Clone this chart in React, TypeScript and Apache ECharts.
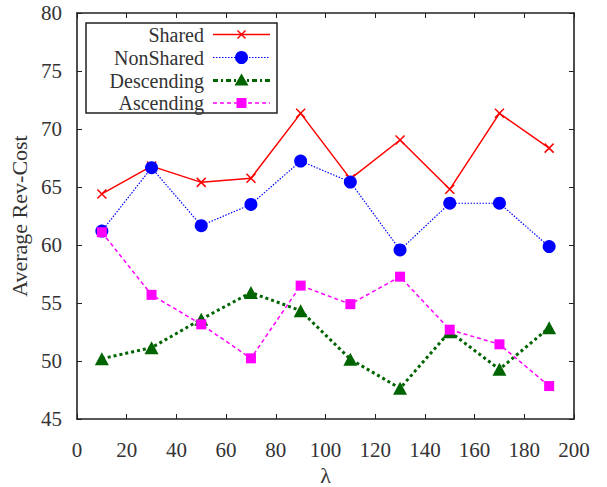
import React, { useEffect, useRef } from "react";
import * as echarts from "echarts";

const lambdas = [10, 30, 50, 70, 90, 110, 130, 150, 170, 190];
const shared = [64.4, 66.8, 65.4, 65.75, 71.35, 65.7, 69.05, 64.8, 71.35, 68.35];
const nonShared = [61.2, 66.66, 61.67, 63.5, 67.24, 65.43, 59.57, 63.6, 63.6, 59.86];
const descending = [50.2, 51.15, 53.6, 55.9, 54.34, 50.15, 47.65, 52.53, 49.28, 52.87];
const ascending = [61.1, 55.7, 53.16, 50.23, 56.5, 54.9, 57.27, 52.7, 51.44, 47.84];
const seriesNames = ["Shared", "NonShared", "Descending", "Ascending"];
const xMin = 0, xMax = 200, xStep = 20;
const yMin = 45, yMax = 80, yStep = 5;
const xName = "λ";
const yName = "Average Rev-Cost";

const FONT = "'Liberation Serif', 'Times New Roman', 'DejaVu Serif', serif";
const AXIS = "#222";
const TXT = "#333";

export default function App() {
  const ref = useRef<HTMLDivElement>(null);
  useEffect(() => {
    if (!ref.current) return;
    const chart = echarts.init(ref.current, null, { renderer: "svg" });
    const pairs = (vals: number[]) => lambdas.map((x, i) => [x, vals[i]]);
    const axisLine = { show: true, onZero: false, lineStyle: { color: AXIS, width: 1.6 } };
    const tick = { show: true, inside: true, length: 5, lineStyle: { color: AXIS, width: 1 } };
    const labelStyle = { fontFamily: FONT, fontSize: 21, color: TXT };

    const legendRows = [34.5, 57.5, 80.5, 103];
    const lx1 = 213, lx2 = 270, lxc = 241.5;
    const legendGraphics: any[] = [
      { type: "rect", shape: { x: 86, y: 23, width: 191, height: 90 }, style: { fill: "#fff", stroke: AXIS, lineWidth: 1.5 }, z: 100 },
    ];
    const legendLine = [
      { stroke: "#ff0000", lineWidth: 1.5, lineDash: null },
      { stroke: "#0000ff", lineWidth: 1.2, lineDash: [1.5, 1.5] },
      { stroke: "#006400", lineWidth: 3, lineDash: [5, 3, 2, 3] },
      { stroke: "#ff00ff", lineWidth: 1.5, lineDash: [4, 3] },
    ];
    seriesNames.forEach((n, i) => {
      const y = legendRows[i];
      legendGraphics.push({
        type: "text", x: 204, y, z: 101,
        style: { text: n, align: "right", verticalAlign: "middle", fontFamily: FONT, fontSize: 20, lineHeight: 20, fill: TXT },
      });
      legendGraphics.push({ type: "line", z: 101, shape: { x1: lx1, y1: y, x2: lx2, y2: y }, style: legendLine[i] });
    });
    const r0 = legendRows[0];
    legendGraphics.push({ type: "line", z: 102, shape: { x1: lxc - 4, y1: r0 - 4, x2: lxc + 4, y2: r0 + 4 }, style: { stroke: "#ff0000", lineWidth: 1.5 } });
    legendGraphics.push({ type: "line", z: 102, shape: { x1: lxc - 4, y1: r0 + 4, x2: lxc + 4, y2: r0 - 4 }, style: { stroke: "#ff0000", lineWidth: 1.5 } });
    legendGraphics.push({ type: "circle", z: 102, shape: { cx: lxc, cy: legendRows[1], r: 6.5 }, style: { fill: "#0000ff" } });
    legendGraphics.push({
      type: "polygon", z: 102,
      shape: { points: [[lxc, legendRows[2] - 7], [lxc - 7, legendRows[2] + 5], [lxc + 7, legendRows[2] + 5]] },
      style: { fill: "#006400" },
    });
    legendGraphics.push({ type: "rect", z: 102, shape: { x: lxc - 5, y: legendRows[3] - 5, width: 10, height: 10 }, style: { fill: "#ff00ff" } });

    chart.setOption({
      animation: false,
      backgroundColor: "#fff",
      grid: { left: 77, top: 13, width: 497, height: 406, containLabel: false, outerBoundsMode: "none" },
      xAxis: [
        {
          type: "value", min: xMin, max: xMax, interval: xStep, position: "bottom",
          axisLine, axisTick: tick, splitLine: { show: false },
          axisLabel: { ...labelStyle, margin: 20 },
          name: xName, nameLocation: "middle", nameGap: 45,
          nameTextStyle: { fontFamily: FONT, fontSize: 22, lineHeight: 21, color: TXT },
        },
        {
          type: "value", min: xMin, max: xMax, interval: xStep, position: "top",
          axisLine, axisTick: tick, splitLine: { show: false }, axisLabel: { show: false },
        },
      ],
      yAxis: [
        {
          type: "value", min: yMin, max: yMax, interval: yStep, position: "left",
          axisLine, axisTick: tick, splitLine: { show: false },
          axisLabel: { ...labelStyle, margin: 15 },
          name: yName, nameLocation: "middle", nameGap: 40, nameRotate: 90,
          nameTextStyle: { fontFamily: FONT, fontSize: 22, color: TXT },
        },
        {
          type: "value", min: yMin, max: yMax, interval: yStep, position: "right",
          axisLine, axisTick: tick, splitLine: { show: false }, axisLabel: { show: false },
        },
      ],
      graphic: legendGraphics,
      series: [
        {
          name: seriesNames[0], type: "line", data: pairs(shared),
          symbol: "path://M0,0L10,10M0,10L10,0", symbolSize: 9,
          itemStyle: { color: "#ff0000", borderColor: "#ff0000", borderWidth: 1.5 },
          lineStyle: { color: "#ff0000", width: 1.5 },
        },
        {
          name: seriesNames[1], type: "line", data: pairs(nonShared),
          symbol: "circle", symbolSize: 13,
          itemStyle: { color: "#0000ff", borderWidth: 0 },
          lineStyle: { color: "#0000ff", width: 1.2, type: [1.5, 1.5] },
        },
        {
          name: seriesNames[2], type: "line", data: pairs(descending),
          symbol: "triangle", symbolSize: [14, 13],
          itemStyle: { color: "#006400", borderWidth: 0 },
          lineStyle: { color: "#006400", width: 3, type: [3, 3] },
        },
        {
          name: seriesNames[3], type: "line", data: pairs(ascending),
          symbol: "rect", symbolSize: 10,
          itemStyle: { color: "#ff00ff", borderWidth: 0 },
          lineStyle: { color: "#ff00ff", width: 1.5, type: [4, 3] },
        },
      ],
    });
    return () => chart.dispose();
  }, []);
  return (
    <div
      ref={ref}
      style={{ position: "fixed", left: 0, top: 0, width: 607, height: 487, background: "#fff" }}
    />
  );
}
